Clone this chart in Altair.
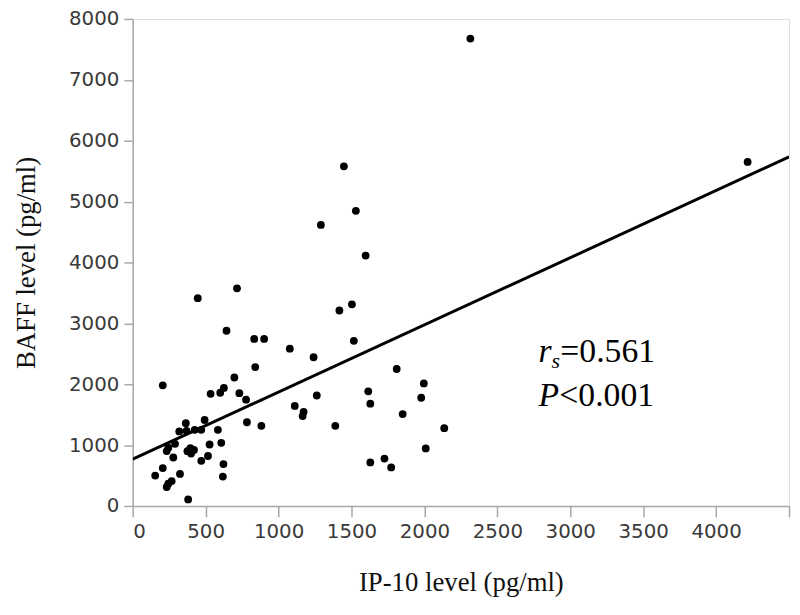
import altair as alt
import pandas as pd

# IP-10 level (pg/ml)
ip10 = [715, 446, 643, 833, 901, 1077, 1240, 840, 697, 206,
        534, 600, 625, 731, 777, 1262, 1111, 1172, 1165, 783,
        882, 493, 364, 319, 369, 425, 470, 584, 607, 527,
        290, 244, 233, 278, 375, 395, 420, 400, 470, 516,
        622, 618, 206, 154, 324, 244, 267, 233, 380,
        1448, 1530, 1290, 1597, 1417, 1503, 1516, 1810, 1996, 1978,
        1615, 1629, 1389, 1851, 2136, 2009, 1629, 1726, 1772, 2315, 4216]
# BAFF level (pg/ml)
baff = [3575, 3414, 2878, 2744, 2744, 2583, 2443, 2282, 2110, 1981,
        1842, 1860, 1939, 1852, 1746, 1815, 1643, 1546, 1477, 1375,
        1316, 1412, 1359, 1224, 1235, 1251, 1251, 1251, 1037, 1010,
        1021, 957, 902, 796, 900, 950, 920, 860, 741, 821,
        688, 483, 623, 499, 527, 366, 409, 312, 108,
        5579, 4848, 4617, 4113, 3211, 3313, 2712, 2250, 2013, 1778,
        1884, 1681, 1316, 1509, 1278, 945, 715, 779, 634, 7677, 5652]

# fitted line end points
fit_x = [0, 4500]
fit_y = [768, 5733]

x_ticks = [0, 500, 1000, 1500, 2000, 2500, 3000, 3500, 4000, 4500]
y_ticks = [0, 1000, 2000, 3000, 4000, 5000, 6000, 7000, 8000]

pts = pd.DataFrame({"ip10": ip10, "baff": baff})
fit = pd.DataFrame({"ip10": fit_x, "baff": fit_y})
one = pd.DataFrame({"k": [0]})

W, H = 663, 492

xs = alt.Scale(domain=[0, 4500], nice=False, zero=False)
ys = alt.Scale(domain=[0, 8000], nice=False, zero=False)

label_font = "DejaVu Sans"
title_font = "Liberation Serif"

x_axis = alt.Axis(values=x_ticks, labelExpr="datum.value >= 4500 ? '' : datum.label",
                  format="d", title="IP-10 level (pg/ml)", grid=False,
                  domainColor="#a8a8a8", domainWidth=1.5, tickColor="#a8a8a8",
                  tickWidth=1.5, tickSize=11, labelFont=label_font, labelFontSize=20,
                  labelColor="#3a3a3a", labelPadding=5, titleFont=title_font,
                  titleFontSize=27, titleFontWeight="normal", titleColor="#111111",
                  titlePadding=28)
y_axis = alt.Axis(values=y_ticks, format="d", title="BAFF level (pg/ml)", grid=False,
                  domainColor="#a8a8a8", domainWidth=1.5, tickColor="#a8a8a8",
                  tickWidth=1.5, tickSize=9, labelFont=label_font, labelFontSize=20,
                  labelColor="#3a3a3a", labelPadding=5, titleFont=title_font,
                  titleFontSize=27, titleFontWeight="normal", titleColor="#111111",
                  titlePadding=28)

points = alt.Chart(pts).mark_circle(size=62, color="black", opacity=1).encode(
    x=alt.X("ip10:Q", scale=xs, axis=x_axis),
    y=alt.Y("baff:Q", scale=ys, axis=y_axis),
)

line = alt.Chart(fit).mark_line(color="black", strokeWidth=3, clip=True).encode(
    x=alt.X("ip10:Q", scale=xs),
    y=alt.Y("baff:Q", scale=ys),
)

big = 34
ann_y1 = 347
ann_y2 = 391
ann_x = 410


def txt(t, x, y, size, style="normal"):
    return alt.Chart(one).mark_text(text=t, font=title_font, fontSize=size, fontStyle=style,
                                    align="left", baseline="alphabetic", color="black").encode(
        x=alt.value(x), y=alt.value(y))


r_txt = txt("r", ann_x, ann_y1, big, "italic")
s_txt = txt("s", ann_x + 13, ann_y1 + 6, 22, "italic")
r_val = txt("=0.561", ann_x + 22, ann_y1, big)
p_txt = txt("P", ann_x, ann_y2, big, "italic")
p_val = txt("<0.001", ann_x + 21, ann_y2, big)

chart = alt.layer(points, line, r_txt, s_txt, r_val, p_txt, p_val).properties(
    width=W, height=H,
    autosize=alt.AutoSizeParams(type="none"),
    padding={"left": 126, "top": 8, "right": 3, "bottom": 99},
).configure_view(stroke="#a8a8a8", strokeWidth=1.5).configure(background="white")

chart.save("out.html", embed_options={"renderer": "svg", "actions": False})
